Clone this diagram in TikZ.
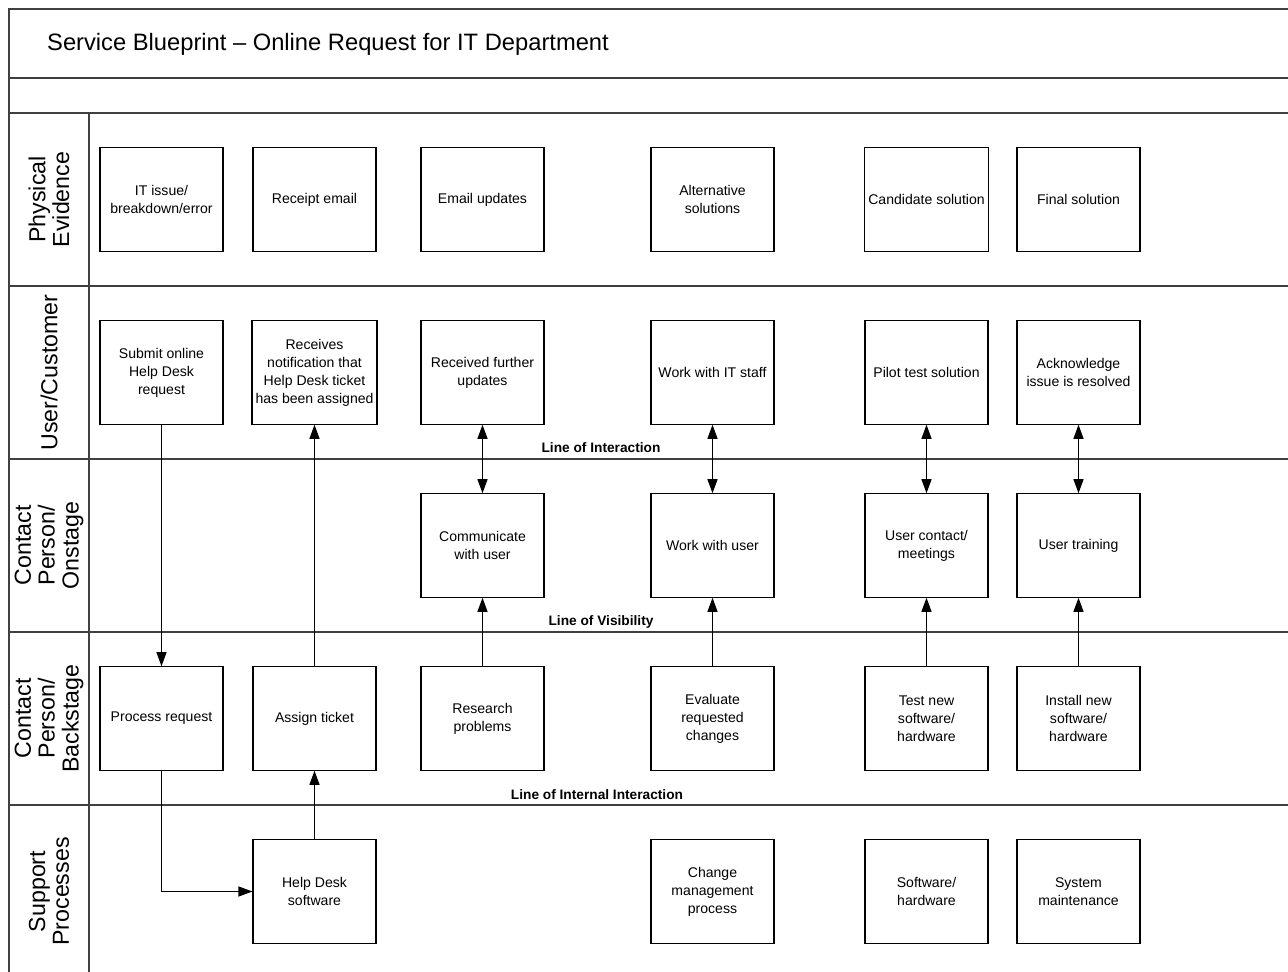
\documentclass[tikz,border=0pt]{standalone}
\usepackage{fontspec}
\setmainfont{Liberation Sans}
\usetikzlibrary{arrows.meta,positioning}
\tikzset{
  box/.style={draw,line width=0.6pt,align=center,
              font=\fontsize{8}{10.2}\selectfont,
              minimum width=2.46cm,minimum height=2.07cm,inner sep=2pt},
  lane/.style={align=center,rotate=90,font=\fontsize{13.2}{13.6}\selectfont},
  frame/.style={line width=1.1pt,draw=black!75},
  linelabel/.style={font=\bfseries\fontsize{7.8}{9}\selectfont,anchor=base},
  arrow/.style={-{Triangle[length=2.8mm,width=2mm]},line width=0.6pt},
  dblarrow/.style={{Triangle[length=2.8mm,width=2mm]}-{Triangle[length=2.8mm,width=2mm]},line width=0.6pt},
}

\begin{document}
\begin{tikzpicture}[x=0.02cm,y=-0.02cm]
\useasboundingbox (0,0) rectangle (1288,972);
% frame and swimlanes
\draw[frame] (1288,9) -- (9,9) -- (9,972);
\foreach \yy in {78,113,286,459,632,805}
  \draw[frame] (9,\yy) -- (1288,\yy);
\draw[frame] (89,113) -- (89,972);
\node[anchor=west,font=\fontsize{13.5}{15}\selectfont] (title) at (41,44)
  {Service Blueprint -- Online Request for IT Department};
% lane labels
\node[lane] (lphys) at (49,199.5) {Physical\\Evidence};
\node[lane] (luser) at (49,372.5) {User/Customer};
\node[lane] (lon) at (49,545.5) {Contact\\Person/\\Onstage};
\node[lane] (lback) at (49,718.5) {Contact\\Person/\\Backstage};
\node[lane] (lsup) at (49,891.5) {Support\\Processes};
% physical evidence
\node[box] (issue) at (161.5,199.5) {IT issue/\\breakdown/error};
\node[box] (receipt) at (314.5,199.5) {Receipt email};
\node[box] (emailupd) at (482.5,199.5) {Email updates};
\node[box] (altsol) at (712.5,199.5) {Alternative\\solutions};
\node[box] (candsol) at (926.5,199.5) {Candidate solution};
\node[box] (finalsol) at (1078.5,199.5) {Final solution};
% user / customer
\node[box] (submit) at (161.5,372.5) {Submit online\\Help Desk\\request};
\node[box] (notify) at (314.5,372.5) {Receives\\notification that\\Help Desk ticket\\has been assigned};
\node[box] (furtherupd) at (482.5,372.5) {Received further\\updates};
\node[box] (workstaff) at (712.5,372.5) {Work with IT staff};
\node[box] (pilot) at (926.5,372.5) {Pilot test solution};
\node[box] (ack) at (1078.5,372.5) {Acknowledge\\issue is resolved};
% onstage
\node[box] (communicate) at (482.5,545.5) {Communicate\\with user};
\node[box] (workuser) at (712.5,545.5) {Work with user};
\node[box] (meetings) at (926.5,545.5) {User contact/\\meetings};
\node[box] (training) at (1078.5,545.5) {User training};
% backstage
\node[box] (process) at (161.5,718.5) {Process request};
\node[box] (assign) at (314.5,718.5) {Assign ticket};
\node[box] (research) at (482.5,718.5) {Research\\problems};
\node[box] (evaluate) at (712.5,718.5) {Evaluate\\requested\\changes};
\node[box] (testnew) at (926.5,718.5) {Test new\\software/\\hardware};
\node[box] (installnew) at (1078.5,718.5) {Install new\\software/\\hardware};
% support
\node[box] (helpdesk) at (314.5,891.5) {Help Desk\\software};
\node[box] (changemgmt) at (712.5,891.5) {Change\\management\\process};
\node[box] (swhw) at (926.5,891.5) {Software/\\hardware};
\node[box] (sysmaint) at (1078.5,891.5) {System\\maintenance};
% lines of interaction etc.
\node[linelabel] (lint) at (601,453) {Line of Interaction};
\node[linelabel] (lvis) at (601,626) {Line of Visibility};
\node[linelabel] (linternal) at (597,799) {Line of Internal Interaction};
% flows
\draw[arrow] (submit) -- (process);
\draw[arrow] (process.south) |- (helpdesk.west);
\draw[arrow] (helpdesk) -- (assign);
\draw[arrow] (assign) -- (notify);
\foreach \u/\o/\b in {furtherupd/communicate/research,workstaff/workuser/evaluate,
                      pilot/meetings/testnew,ack/training/installnew}{
  \draw[dblarrow] (\u) -- (\o);
  \draw[arrow] (\b) -- (\o);
}
\end{tikzpicture}
\end{document}
